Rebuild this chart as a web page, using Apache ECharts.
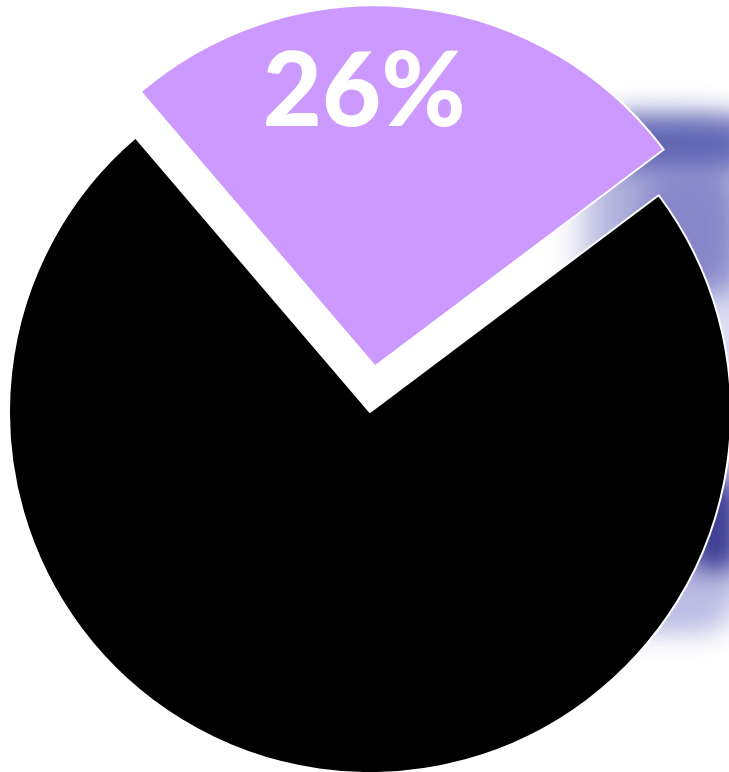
<!DOCTYPE html>
<html><head><meta charset="utf-8">
<script src="https://cdn.jsdelivr.net/npm/echarts@6/dist/echarts.min.js"></script>
<style>html,body{margin:0;padding:0;background:#fff}#c{width:729px;height:772px}</style>
</head><body><div id="c"></div>
<script>
const categories = ['A', 'B'];
const values = [26, 74];
const colors = ['#cc99ff', '#000000'];

const chart = echarts.init(document.getElementById('c'));
// blurred decorative background blobs (shadow-only shapes drawn offscreen)
function blob(x, y, w, h, color, blur) {
  return {type: 'rect', silent: true, z: -10,
    shape: {x: x + 2000, y: y, width: w, height: h, r: Math.min(w, h) / 3},
    style: {fill: color, shadowColor: color, shadowBlur: blur, shadowOffsetX: -2000}};
}
chart.setOption({
  animation: false,
  graphic: [
    blob(585, 122, 160, 505, 'rgba(150,150,210,0.85)', 35),
    blob(605, 115, 150, 55, 'rgba(80,85,170,0.9)', 25),
    blob(640, 170, 100, 120, 'rgba(110,110,190,0.8)', 30),
    blob(700, 300, 40, 150, 'rgba(235,235,250,0.9)', 25),
    blob(690, 480, 50, 90, 'rgba(35,35,130,0.9)', 25),
    blob(640, 590, 80, 35, 'rgba(190,190,230,0.9)', 25)
  ],
  series: [{
    type: 'pie',
    center: [370, 412],
    radius: [0, 361],
    startAngle: 130.5,
    clockwise: true,
    selectedMode: 'single',
    selectedOffset: 46,
    avoidLabelOverlap: false,
    itemStyle: {borderColor: '#ffffff', borderWidth: 2},
    emphasis: {disabled: true},
    labelLine: {show: false},
    label: {show: false},
    labelLayout: function () { return {dx: -31, dy: -91}; },
    data: categories.map((c, i) => ({
      name: c, value: values[i], selected: i === 0,
      itemStyle: {color: colors[i]},
      select: {itemStyle: {color: colors[i], borderColor: '#ffffff', borderWidth: 2}},
      label: i === 0 ? {
        show: true, position: 'inside', formatter: '{d}%',
        color: '#ffffff', fontSize: 102, fontWeight: 900,
        fontFamily: 'Lato'
      } : {show: false}
    }))
  }]
});
</script>
</body></html>
